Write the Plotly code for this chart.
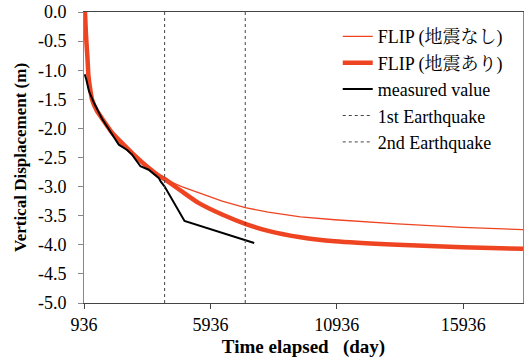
import plotly.graph_objects as go

# FLIP common part (before 1st earthquake)
flip_common_day = [975, 1015, 1074, 1113, 1172, 1251, 1448, 1684, 2038, 2432, 2904, 3416, 3956, 4125]
flip_common_val = [0.0, -0.4, -0.8, -1.1, -1.3, -1.5, -1.7, -1.85, -2.07, -2.25, -2.45, -2.65, -2.83, -2.87]

# FLIP without earthquake (after 1st earthquake date)
flip_no_day = [4800, 5464, 6400, 7314, 8220, 9500, 10857, 13338, 15897, 18300]
flip_no_val = [-3.0, -3.1, -3.25, -3.36, -3.44, -3.52, -3.57, -3.64, -3.70, -3.74]

# FLIP with earthquake
flip_eq_day = [4800, 5464, 6400, 7314, 8220, 9500, 10857, 13338, 15897, 18300]
flip_eq_val = [-3.08, -3.28, -3.48, -3.64, -3.76, -3.87, -3.94, -4.0, -4.04, -4.07]

# measured
meas_day = [964, 1027, 1133, 1330, 1656, 1987, 2314, 2641, 2838, 3168, 3495, 3889, 3968, 4125, 4912, 7668]
meas_val = [-1.07, -1.16, -1.36, -1.56, -1.84, -2.07, -2.28, -2.37, -2.45, -2.65, -2.71, -2.85, -2.91, -3.0, -3.59, -3.97]

eq1_day = 4125
eq2_day = 7314
y_range = [-5.0, 0.0]
x_range = [936, 18300]
x_ticks = [936, 5936, 10936, 15936]
y_ticks = [0.0, -0.5, -1.0, -1.5, -2.0, -2.5, -3.0, -3.5, -4.0, -4.5, -5.0]

RED = "#EE4422"
SERIF = "Liberation Serif, Times New Roman, Noto Serif CJK JP, Noto Sans CJK JP, serif"

fig = go.Figure()
fig.add_trace(go.Scatter(x=flip_common_day + flip_no_day, y=flip_common_val + flip_no_val,
                         mode="lines", line=dict(color=RED, width=1.3),
                         name="FLIP (地震なし)"))
fig.add_trace(go.Scatter(x=flip_common_day + flip_eq_day, y=flip_common_val + flip_eq_val,
                         mode="lines", line=dict(color=RED, width=4.5, shape="spline", smoothing=0.4),
                         name="FLIP (地震あり)"))
fig.add_trace(go.Scatter(x=meas_day, y=meas_val, mode="lines",
                         line=dict(color="black", width=2), name="measured value"))
fig.add_trace(go.Scatter(x=[eq1_day, eq1_day], y=y_range, mode="lines",
                         line=dict(color="#444444", width=1, dash="dot"), name="1st Earthquake"))
fig.add_trace(go.Scatter(x=[eq2_day, eq2_day], y=y_range, mode="lines",
                         line=dict(color="#444444", width=1, dash="dot"), name="2nd Earthquake"))

fig.update_layout(
    width=525, height=361,
    margin=dict(l=84, r=2, t=12, b=58),
    paper_bgcolor="white", plot_bgcolor="white",
    font=dict(family=SERIF, size=18, color="black"),
    showlegend=True,
    legend=dict(x=0.578, y=0.979, xanchor="left", yanchor="top",
                font=dict(family=SERIF, size=18, color="black"),
                bgcolor="rgba(0,0,0,0)", tracegroupgap=0, itemwidth=30),
)
fig.update_xaxes(range=x_range, tickvals=x_ticks, ticktext=[str(v) for v in x_ticks],
                 showgrid=False, zeroline=False, showline=True, linecolor="#444444", linewidth=1,
                 mirror=True, ticks="outside", ticklen=5, tickcolor="#444444",
                 tickfont=dict(family=SERIF, size=18),
                 title=dict(text="<b>Time elapsed   (day)</b>", font=dict(family=SERIF, size=19), standoff=6))
fig.update_yaxes(range=y_range, tickvals=y_ticks, ticktext=[f"{v:.1f}" for v in y_ticks],
                 showgrid=False, zeroline=False, showline=True, linecolor="#888888", linewidth=1,
                 mirror=True, ticks="outside", ticklen=5, tickcolor="#888888",
                 tickfont=dict(family=SERIF, size=18), ticklabelstandoff=8,
                 title=dict(text="<b>Vertical Displacement (m)</b>", font=dict(family=SERIF, size=17), standoff=6))

fig.write_html("out.html")
